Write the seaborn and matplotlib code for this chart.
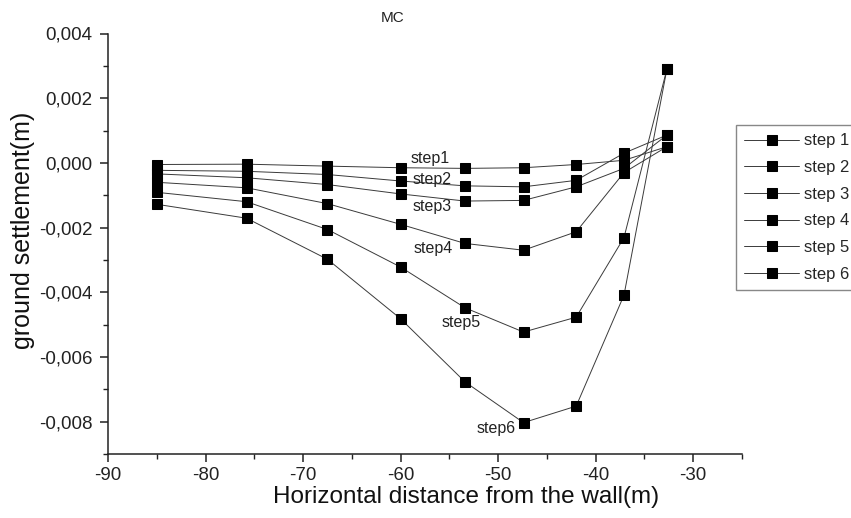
import matplotlib
matplotlib.use("Agg")
import matplotlib.pyplot as plt
import numpy as np
import pandas as pd
import seaborn as sns
from matplotlib.ticker import MultipleLocator, FuncFormatter

# ---- data ----
x_m = [-85, -75.8, -67.5, -60, -53.4, -47.4, -42, -37.1, -32.7]
step1 = [-0.00005, -0.00004, -0.00010, -0.00015, -0.00017, -0.00015, -0.00005, 0.00008, 0.00050]
step2 = [-0.00023, -0.00026, -0.00036, -0.00056, -0.00071, -0.00074, -0.00054, 0.00030, 0.00086]
step3 = [-0.00034, -0.00046, -0.00067, -0.00096, -0.00118, -0.00116, -0.00074, -0.00017, 0.00086]
step4 = [-0.00060, -0.00077, -0.00126, -0.00190, -0.00249, -0.00270, -0.00213, -0.00030, 0.00050]
step5 = [-0.00091, -0.00120, -0.00206, -0.00322, -0.00448, -0.00523, -0.00477, -0.00231, 0.00290]
step6 = [-0.00128, -0.00171, -0.00298, -0.00482, -0.00677, -0.00803, -0.00752, -0.00409, 0.00290]
series_names = ["step 1", "step 2", "step 3", "step 4", "step 5", "step 6"]
annot_text = ["step1", "step2", "step3", "step4", "step5", "step6"]
annot_x = [-57.0, -56.8, -56.8, -56.7, -53.8, -50.2]
annot_y = [0.00015, -0.00050, -0.00134, -0.00266, -0.00493, -0.00822]

all_vals = [step1, step2, step3, step4, step5, step6]
df = pd.concat(
    [pd.DataFrame({"x": x_m, "y": v, "series": n}) for n, v in zip(series_names, all_vals)],
    ignore_index=True,
)

sns.set_style("ticks")
plt.rcParams["font.family"] = ["Liberation Sans", "DejaVu Sans"]

W, H = 851, 518
fig = plt.figure(figsize=(W / 100, H / 100), dpi=100)
ax = fig.add_axes([108 / W, 1 - 454 / H, (742 - 108) / W, (454 - 33.5) / H])

sns.lineplot(
    data=df, x="x", y="y", hue="series", style="series",
    palette=["#000000"] * 6, markers=["s"] * 6, dashes=False,
    sort=False, estimator=None, ax=ax, linewidth=0.7,
    markersize=7.5, markeredgecolor="#000000", legend=True,
)
for ln in ax.lines:
    ln.set_color("#3a3a3a")
    ln.set_markerfacecolor("#000000")
    ln.set_markeredgecolor("#000000")

ax.set_xlim(-90, -25)
ax.set_ylim(-0.009, 0.004)
ax.xaxis.set_major_locator(MultipleLocator(10))
ax.xaxis.set_minor_locator(MultipleLocator(5))
ax.yaxis.set_major_locator(MultipleLocator(0.002))
ax.yaxis.set_minor_locator(MultipleLocator(0.001))


def yfmt(v, pos):
    if abs(v) < 1e-9:
        return "0,000"
    return f"{v:.3f}".replace(".", ",")


ax.yaxis.set_major_formatter(FuncFormatter(yfmt))
ax.xaxis.set_major_formatter(FuncFormatter(lambda v, p: f"{v:.0f}"))

for s in ["top", "right"]:
    ax.spines[s].set_visible(False)
for s in ["left", "bottom"]:
    ax.spines[s].set_linewidth(1.1)
    ax.spines[s].set_color("#222222")
ax.tick_params(axis="both", which="major", direction="out", length=6, width=1.1,
               labelsize=13.5, colors="#222222")
ax.tick_params(axis="y", which="major", pad=5)
ax.tick_params(axis="x", which="major", pad=3)
ax.tick_params(axis="both", which="minor", direction="out", length=3.5, width=1.0,
               colors="#222222")

ax.set_xlabel("")
ax.set_ylabel("")
fig.text(466 / W, 1 - 497 / H, "Horizontal distance from the wall(m)", ha="center",
         va="center", fontsize=17.5, color="#111111")
fig.text(23 / W, 1 - 230 / H, "ground settlement(m)", ha="center", va="center",
         rotation=90, fontsize=18, color="#111111")

for t, xx, yy in zip(annot_text, annot_x, annot_y):
    ax.text(xx, yy, t, ha="center", va="center", fontsize=11.5, color="#222222")

fig.text(393 / W, 1 - 18 / H, "MC", ha="center", va="center", fontsize=11, color="#222222")

handles, labels = ax.get_legend_handles_labels()
ax.legend(
    handles, labels, loc="upper left", bbox_to_anchor=(736 / W, 1 - 125 / H),
    bbox_transform=fig.transFigure, fontsize=12, frameon=True, fancybox=False,
    edgecolor="#888888", framealpha=1, handlelength=3.3, handletextpad=0.3,
    labelspacing=0.7, borderpad=0.5, borderaxespad=0,
)

fig.savefig("out.png", dpi=100)
